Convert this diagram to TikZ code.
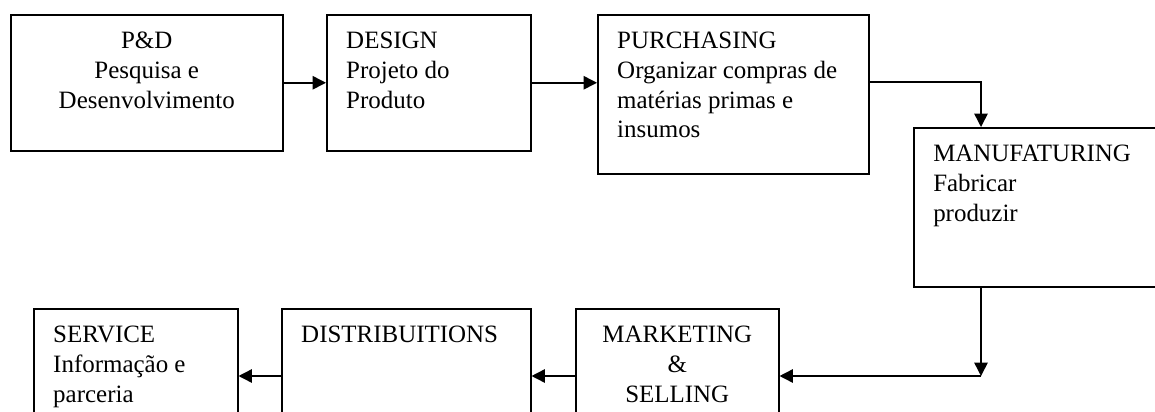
\documentclass[tikz,border=0pt]{standalone}
\usepackage{fontspec}
\setmainfont{Liberation Serif}
\usetikzlibrary{arrows.meta,positioning,calc}
\tikzset{
  every picture/.append style={font=\fontsize{21.3}{25.3}\selectfont, >=Triangle},
  blk/.style={rectangle, draw=black, fill=white, line width=1.3pt, inner sep=0pt, anchor=north west},
  txt/.style={inner sep=0pt, align=left},
  flow/.style={-{Triangle[length=0.4cm,width=0.4cm]}, line width=1.3pt, draw=black},
}
\begin{document}
\begin{tikzpicture}[x=1cm,y=1cm]
\useasboundingbox (0,0) rectangle (34.65,-12.36);
\clip (0,0) rectangle (34.65,-12.36);

% ---------------- top row ----------------
\node[blk, minimum width=8.16cm, minimum height=4.08cm] (pd)  at (0.30,-0.42) {};
\node[blk, minimum width=6.12cm, minimum height=4.08cm] (dsg) at (9.78,-0.42) {};
\node[blk, minimum width=8.13cm, minimum height=4.77cm] (pur) at (17.91,-0.42) {};
\node[blk, minimum width=7.41cm, minimum height=4.77cm] (mfg) at (27.39,-3.81) {};

\node[txt, align=center, below=0.54cm of pd.north] (pdT) {P\&D\\Pesquisa e\\Desenvolvimento};
\node[txt, below right=0.54cm and 0.6cm of dsg.north west] (dsgT) {DESIGN\\Projeto do\\Produto};
\node[txt, below right=0.54cm and 0.6cm of pur.north west] (purT) {PURCHASING\\Organizar compras de\\matérias primas e\\insumos};
\node[txt, below right=0.54cm and 0.6cm of mfg.north west] (mfgT) {MANUFATURING\\Fabricar\\produzir};

% ---------------- bottom row ----------------
\node[blk, minimum width=6.09cm, minimum height=3.9cm] (mkt) at (17.25,-9.24) {};
\node[blk, minimum width=7.47cm, minimum height=3.9cm] (dst) at (8.43,-9.24) {};
\node[blk, minimum width=6.12cm, minimum height=3.9cm] (srv) at (0.99,-9.24) {};

\node[txt, align=center, below=0.54cm of mkt.north] (mktT) {MARKETING\\\&\\SELLING};
\node[txt, below right=0.54cm and 0.6cm of dst.north west] (dstT) {DISTRIBUITIONS};
\node[txt, below right=0.54cm and 0.6cm of srv.north west] (srvT) {SERVICE\\Informação e\\parceria};

% ---------------- connectors ----------------
\coordinate (c1) at (29.43,-2.46);
\coordinate (c2) at (29.43,-11.28);
\draw[flow] (pd.east) -- (dsg.west);
\draw[flow] (dsg.east) -- (dsg.east -| pur.west);
\draw[flow] (pur.east |- c1) -- (c1) -- (c1 |- mfg.north);
\draw[flow] (c2 |- mfg.south) -- (c2);
\draw[flow] (c2) -- (c2 -| mkt.east);
\draw[flow] (mkt.west |- c2) -- (c2 -| dst.east);
\draw[flow] (dst.west |- c2) -- (c2 -| srv.east);

\end{tikzpicture}
\end{document}
